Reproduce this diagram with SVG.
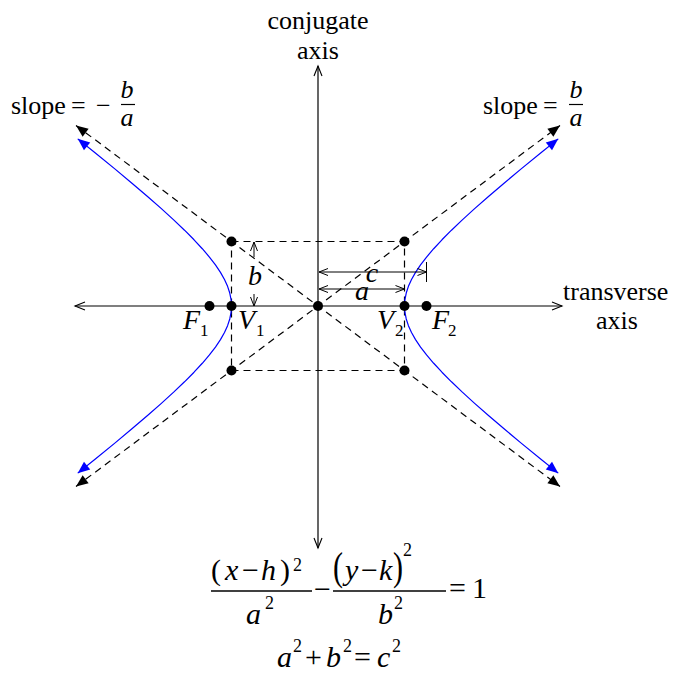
<svg xmlns="http://www.w3.org/2000/svg" width="673" height="675" viewBox="0 0 673 675">
<style>
text{font-family:"Liberation Serif","Times New Roman",serif;fill:#000}
.t{font-size:26px}
.i{font-style:italic}
.m{font-size:30px}
.s{font-size:18px}
.sl{font-size:17px}
.axis{stroke:#000;stroke-width:1.2;fill:none}
.dash{stroke:#000;stroke-width:1.2;fill:none;stroke-dasharray:7 5}
.hyp{stroke:#0000ff;stroke-width:1.2;fill:none;stroke-linejoin:round}
.dim{stroke:#000;stroke-width:1;fill:none}
.dot{fill:#000}
</style>
<defs>
<marker id="open" markerUnits="userSpaceOnUse" markerWidth="14" markerHeight="12" refX="10" refY="4" orient="auto-start-reverse" overflow="visible">
<path d="M0,0 L10,4 L0,8" fill="none" stroke="#000" stroke-width="1.1"/>
</marker>
<marker id="dimA" markerUnits="userSpaceOnUse" markerWidth="12" markerHeight="10" refX="9" refY="3.5" orient="auto-start-reverse" overflow="visible">
<path d="M0,0 L9,3.5 L0,7" fill="none" stroke="#000" stroke-width="1"/>
</marker>
<marker id="blk" markerUnits="userSpaceOnUse" markerWidth="14" markerHeight="12" refX="12" refY="5" orient="auto-start-reverse" overflow="visible">
<path d="M0,0 L12,5 L0,10 z" fill="#000"/>
</marker>
<marker id="blu" markerUnits="userSpaceOnUse" markerWidth="14" markerHeight="12" refX="12" refY="5" orient="auto-start-reverse" overflow="visible">
<path d="M0,0 L12,5 L0,10 z" fill="#0000ff"/>
</marker>
</defs>

<g id="connectors">
<line class="axis" x1="75" y1="306" x2="562" y2="306" marker-start="url(#open)" marker-end="url(#open)"/>
<line class="axis" x1="318" y1="66" x2="318" y2="548" marker-start="url(#open)" marker-end="url(#open)"/>
<line class="dash" x1="76" y1="125.5" x2="560" y2="486.5" marker-start="url(#blk)" marker-end="url(#blk)"/>
<line class="dash" x1="76" y1="486.5" x2="560" y2="125.5" marker-start="url(#blk)" marker-end="url(#blk)"/>
<rect class="dash" x="231.5" y="241.5" width="173" height="129"/>
<path class="hyp" marker-start="url(#blu)" marker-end="url(#blu)" d="M558.26,473.14 L540.95,459.23 L521.48,443.34 L504.05,428.83 L488.48,415.55 L474.63,403.36 L462.33,392.15 L451.48,381.80 L441.96,372.21 L433.69,363.28 L426.57,354.93 L420.54,347.07 L415.54,339.61 L411.51,332.50 L408.42,325.64 L406.24,318.99 L404.93,312.46 L404.5,306 L404.93,299.54 L406.24,293.01 L408.42,286.36 L411.51,279.50 L415.54,272.39 L420.54,264.93 L426.57,257.07 L433.69,248.72 L441.96,239.79 L451.48,230.20 L462.33,219.85 L474.63,208.64 L488.48,196.45 L504.05,183.17 L521.48,168.66 L540.95,152.77 L558.26,138.86"/>
<path class="hyp" marker-start="url(#blu)" marker-end="url(#blu)" d="M77.74,473.14 L95.05,459.23 L114.52,443.34 L131.95,428.83 L147.52,415.55 L161.37,403.36 L173.67,392.15 L184.52,381.80 L194.04,372.21 L202.31,363.28 L209.43,354.93 L215.46,347.07 L220.46,339.61 L224.49,332.50 L227.58,325.64 L229.76,318.99 L231.07,312.46 L231.5,306 L231.07,299.54 L229.76,293.01 L227.58,286.36 L224.49,279.50 L220.46,272.39 L215.46,264.93 L209.43,257.07 L202.31,248.72 L194.04,239.79 L184.52,230.20 L173.67,219.85 L161.37,208.64 L147.52,196.45 L131.95,183.17 L114.52,168.66 L95.05,152.77 L77.74,138.86"/>
<line class="dim" x1="254" y1="257" x2="254" y2="242" marker-end="url(#dimA)"/>
<line class="dim" x1="254" y1="294" x2="254" y2="306" marker-end="url(#dimA)"/>
<line class="dim" x1="319" y1="272" x2="426.5" y2="272" marker-start="url(#dimA)" marker-end="url(#dimA)"/>
<line class="dim" x1="426.5" y1="262" x2="426.5" y2="282"/>
<line class="dim" x1="319" y1="289" x2="404.5" y2="289" marker-start="url(#dimA)" marker-end="url(#dimA)"/>
</g>

<g id="box-corners">
<circle class="dot" cx="231.5" cy="241.5" r="5"/>
<circle class="dot" cx="404.5" cy="241.5" r="5"/>
<circle class="dot" cx="231.5" cy="370.5" r="5"/>
<circle class="dot" cx="404.5" cy="370.5" r="5"/>
</g>
<g id="center"><circle class="dot" cx="318" cy="306" r="5"/></g>
<g id="F1"><circle class="dot" cx="209.5" cy="306" r="5"/>
<text class="i" x="183" y="329" font-size="28">F</text><text class="sl" x="200" y="336">1</text></g>
<g id="V1"><circle class="dot" cx="231.5" cy="306" r="5"/>
<text class="i" x="238" y="329" font-size="28">V</text><text class="sl" x="256" y="336">1</text></g>
<g id="V2"><circle class="dot" cx="404.5" cy="306" r="5"/>
<text class="i" x="377" y="329" font-size="28">V</text><text class="sl" x="395" y="336">2</text></g>
<g id="F2"><circle class="dot" cx="426.5" cy="306" r="5"/>
<text class="i" x="432" y="329" font-size="28">F</text><text class="sl" x="448" y="336">2</text></g>

<g id="dim-labels">
<text class="i" x="255" y="285" font-size="28" text-anchor="middle">b</text>
<text class="i" x="372" y="282" font-size="28" text-anchor="middle">c</text>
<text class="i" x="362" y="300" font-size="28" text-anchor="middle">a</text>
</g>

<g id="conjugate-label">
<text class="t" x="318" y="29" text-anchor="middle">conjugate</text>
<text class="t" x="318" y="59" text-anchor="middle">axis</text>
</g>
<g id="transverse-label">
<text class="t" x="563" y="300">transverse</text>
<text class="t" x="617" y="329" text-anchor="middle">axis</text>
</g>

<g id="slope-left">
<text class="t" x="11" y="114">slope</text>
<text class="t" x="71" y="114">=</text>
<text class="t" x="96" y="114">−</text>
<text class="t i" x="127" y="98" text-anchor="middle">b</text>
<line x1="121" y1="104.5" x2="135" y2="104.5" stroke="#000" stroke-width="1.2"/>
<text class="t i" x="127" y="126" text-anchor="middle">a</text>
</g>
<g id="slope-right">
<text class="t" x="483" y="114">slope</text>
<text class="t" x="543" y="114">=</text>
<text class="t i" x="576" y="98" text-anchor="middle">b</text>
<line x1="569" y1="104.5" x2="583" y2="104.5" stroke="#000" stroke-width="1.2"/>
<text class="t i" x="576" y="126" text-anchor="middle">a</text>
</g>

<g id="equation">
<text class="m" x="211" y="580">(</text>
<text class="m i" x="225" y="580">x</text>
<text class="m" x="242" y="580">−</text>
<text class="m i" x="261" y="580">h</text>
<text class="m" x="280" y="580">)</text>
<text class="s" x="293" y="571">2</text>
<line x1="211" y1="591" x2="312" y2="591" stroke="#000" stroke-width="1.3"/>
<text class="m i" x="246" y="624">a</text>
<text class="s" x="265" y="609">2</text>
<text class="m" x="314" y="599">−</text>
<text class="m" transform="translate(333,580) scale(1,1.3)">(</text>
<text class="m i" x="345" y="580">y</text>
<text class="m" x="361" y="580">−</text>
<text class="m i" x="379" y="580">k</text>
<text class="m" transform="translate(393,580) scale(1,1.3)">)</text>
<text class="s" x="403" y="556">2</text>
<line x1="333" y1="591" x2="446" y2="591" stroke="#000" stroke-width="1.3"/>
<text class="m i" x="378" y="624">b</text>
<text class="s" x="394" y="609">2</text>
<text class="m" x="449" y="598">=</text>
<text class="m" x="472" y="598">1</text>
</g>
<g id="identity">
<text class="m i" x="277" y="667">a</text>
<text class="s" x="293" y="652">2</text>
<text class="m" x="305" y="667">+</text>
<text class="m i" x="326" y="667">b</text>
<text class="s" x="343" y="652">2</text>
<text class="m" x="354" y="667">=</text>
<text class="m i" x="377" y="667">c</text>
<text class="s" x="392" y="652">2</text>
</g>
</svg>
